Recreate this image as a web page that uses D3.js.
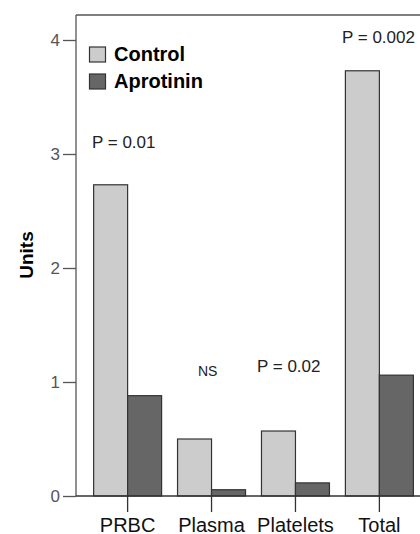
<html>
<head>
<style>
  body { margin: 0; background: #fff; }
  text { font-family: Arial, "Liberation Sans", sans-serif; }
</style>
</head>
<body>
<svg id="chart" width="420" height="534"></svg>
<script src="https://cdn.jsdelivr.net/npm/d3@7"></script>
<script>
const categories = ["PRBC", "Plasma", "Platelets", "Total"]
const series = ["Control", "Aprotinin"]
const control = [2.73, 0.5, 0.57, 3.73]
const aprotinin = [0.88, 0.055, 0.115, 1.06]
const pLabels = ["P = 0.01", "NS", "P = 0.02", "P = 0.002"]
const yTicks = [0, 1, 2, 3, 4]

let svg = d3.select("#chart")
let mLeft = 76, mTop = 15, mRight = 431, mBottom = 496

let x = d3.scaleBand().domain(categories).range([mLeft, mRight])
    .paddingInner(0.19).paddingOuter(0.21)
let xs = d3.scaleBand().domain(series).range([0, x.bandwidth()])
let y = d3.scaleLinear().domain([0, 4]).range([mBottom, mBottom - 456])
let color = d3.scaleOrdinal().domain(series).range(["#cccccc", "#666666"])

// frame
svg.append("line").attr("x1", mLeft).attr("x2", 420).attr("y1", mTop).attr("y2", mTop)
    .attr("stroke", "#555").attr("stroke-width", 1.3)

// bars
let rows = categories.map((c, i) => ({ cat: c, vals: [control[i], aprotinin[i]] }))
let g = svg.selectAll(".grp").data(rows).enter().append("g")
    .attr("transform", d => `translate(${x(d.cat)},0)`)
g.selectAll("rect").data(d => d.vals.map((v, j) => ({ s: series[j], v: v })))
    .enter().append("rect")
    .attr("x", d => xs(d.s))
    .attr("y", d => y(d.v))
    .attr("width", xs.bandwidth())
    .attr("height", d => mBottom - y(d.v))
    .attr("fill", d => color(d.s))
    .attr("stroke", "#333").attr("stroke-width", 1.2)

// axes
let yAxis = d3.axisLeft(y).tickValues(yTicks).tickSize(13).tickPadding(3).tickFormat(d3.format("d"))
let ya = svg.append("g").attr("transform", `translate(${mLeft},0)`).call(yAxis)
ya.select(".domain").attr("d", `M0,${mTop}V${mBottom}`).attr("stroke", "#555").attr("stroke-width", 1.3)
ya.selectAll(".tick line").attr("stroke", "#555").attr("stroke-width", 1.3)
ya.selectAll(".tick text").attr("fill", "#555").style("font-size", "17px")
    .style("font-family", "Arial, 'Liberation Sans', sans-serif")

let xAxis = d3.axisBottom(x).tickSize(16).tickPadding(5.5)
let xa = svg.append("g").attr("transform", `translate(0,${mBottom})`).call(xAxis)
xa.select(".domain").attr("d", `M${mLeft},0H420`).attr("stroke", "#333").attr("stroke-width", 1.3)
xa.selectAll(".tick line").attr("stroke", "#333").attr("stroke-width", 1.3)
xa.selectAll(".tick text").attr("fill", "#111").style("font-size", "20px")
    .style("font-family", "Arial, 'Liberation Sans', sans-serif")

// y title
svg.append("text").attr("transform", "translate(33,255) rotate(-90)")
    .attr("text-anchor", "middle").style("font-size", "19px").style("font-weight", "bold")
    .text("Units")

// p-value labels
let pPos = [[92, 148], [198, 376], [257, 372], [342, 43]]
svg.selectAll(".plab").data(pLabels).enter().append("text")
    .attr("x", (d, i) => pPos[i][0]).attr("y", (d, i) => pPos[i][1])
    .style("font-size", (d, i) => i == 1 ? "14px" : "17px").attr("fill", "#222")
    .text(d => d)

// legend
let leg = svg.selectAll(".leg").data(series).enter().append("g")
    .attr("transform", (d, i) => `translate(89.5,${47 + i * 27})`)
leg.append("rect").attr("width", 16).attr("height", 15)
    .attr("fill", d => color(d)).attr("stroke", "#333").attr("stroke-width", 1.2)
leg.append("text").attr("x", 24.5).attr("y", 14.3)
    .style("font-size", "20px").style("font-weight", "bold").text(d => d)
</script>
</body>
</html>
